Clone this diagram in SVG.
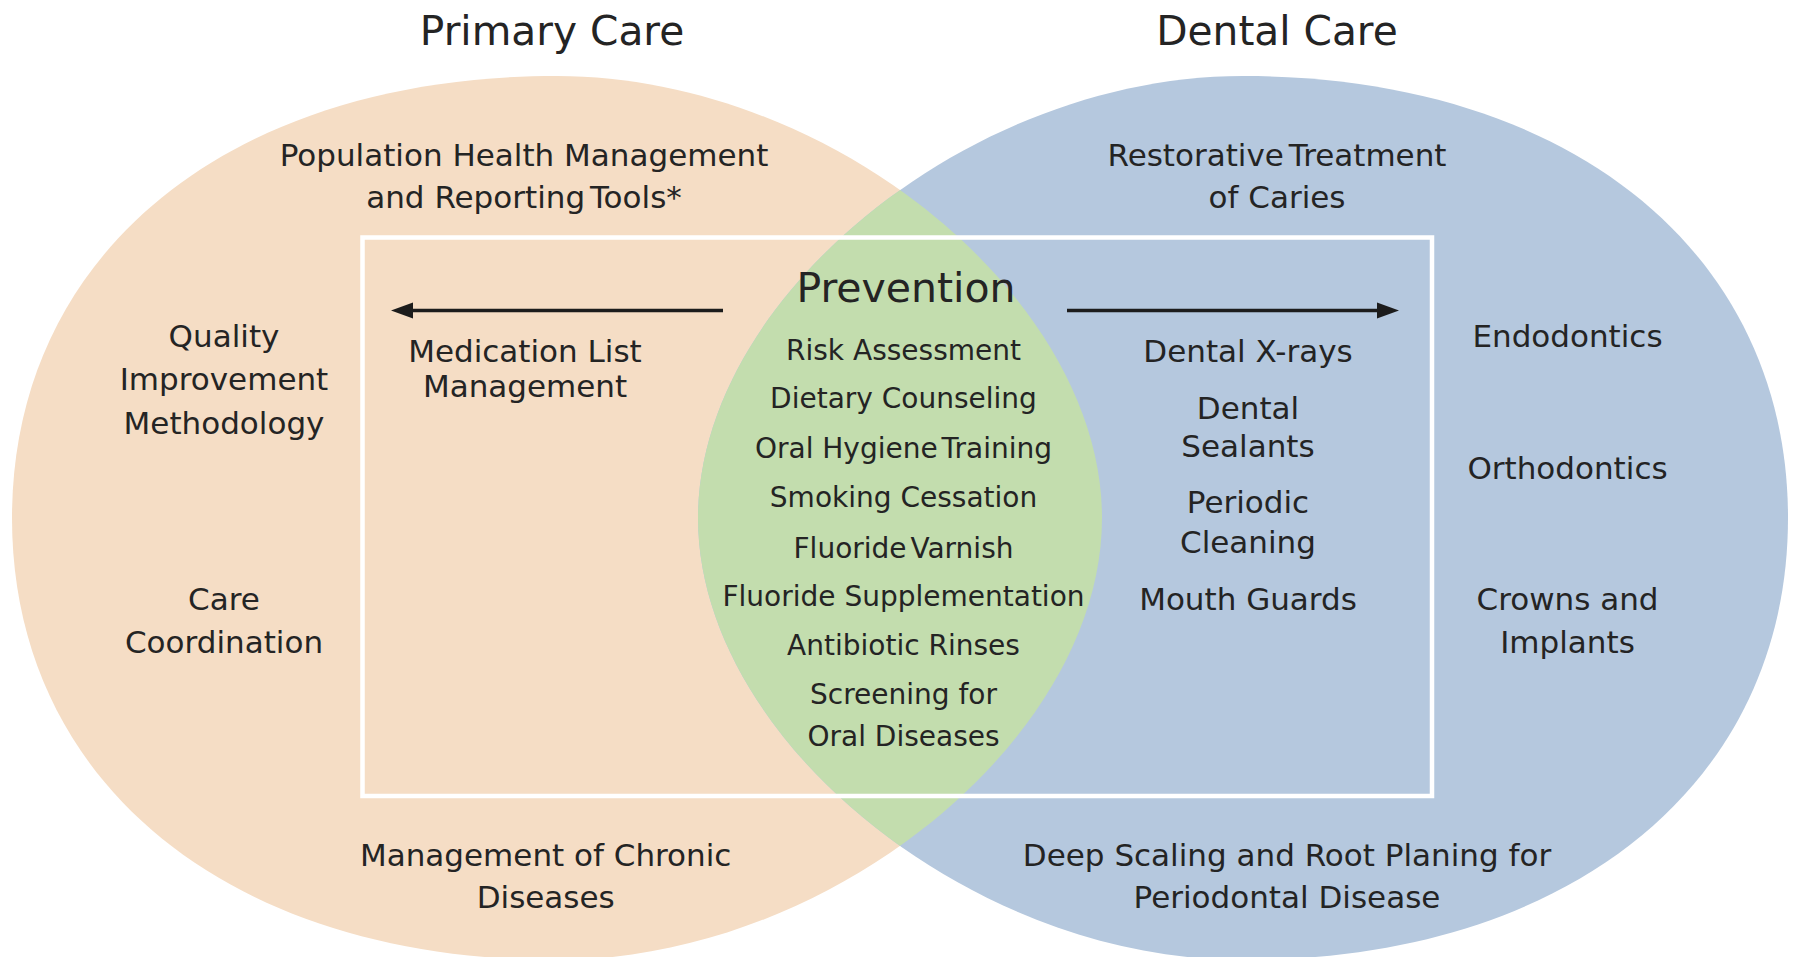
<svg xmlns="http://www.w3.org/2000/svg" xmlns:xlink="http://www.w3.org/1999/xlink" width="1793" height="957" viewBox="0 0 1793 957">
<defs>
<style>
text { font-family: "DejaVu Sans", "Liberation Sans", sans-serif; fill: #242424; text-anchor: middle; }
.title { font-size: 40.7px; }
.lbl { font-size: 31px; }
.prev { font-size: 28px; }
.head { font-size: 41px; }
.tight { word-spacing: -5px; }
.arrow { stroke: #1c1c1c; stroke-width: 3.5; fill: none; marker-end: url(#ah); }
</style>
<marker id="ah" markerUnits="userSpaceOnUse" markerWidth="22" markerHeight="18" viewBox="0 0 22 18" refX="10" refY="9" orient="auto">
<path d="M0,1 L22,9 L0,17 Z" fill="#1c1c1c"/>
</marker>
<path id="lobe" d="M557,76 C230,76 12,252.8 12,518 C12,783.2 230,960 557,960 C829.5,960 1102,739 1102,518 C1102,297 829.5,76 557,76 Z"/>
<clipPath id="clipBlue">
<use xlink:href="#lobe" href="#lobe" transform="translate(1800,0) scale(-1,1)"/>
</clipPath>
</defs>

<g id="circles">
<use id="primary-lobe" xlink:href="#lobe" href="#lobe" fill="#F5DDC5"/>
<use id="dental-lobe" xlink:href="#lobe" href="#lobe" fill="#B5C8DE" transform="translate(1800,0) scale(-1,1)"/>
<use id="overlap" xlink:href="#lobe" href="#lobe" fill="#C3DDAE" clip-path="url(#clipBlue)"/>
</g>

<g id="frame">
<rect x="362.5" y="237.5" width="1069.5" height="558.5" fill="none" stroke="#ffffff" stroke-width="4.5"/>
</g>

<g id="connectors">
<path class="arrow" d="M723,310.5 L403,310.5"/>
<path class="arrow" d="M1067,310.5 L1387,310.5"/>
</g>

<g id="title-primary"><text class="title" x="552" y="45">Primary Care</text></g>
<g id="title-dental"><text class="title" x="1277" y="45">Dental Care</text></g>

<g id="population-health">
<text class="lbl" x="524" y="166">Population Health Management</text>
<text class="lbl" x="524" y="208">and <tspan class="tight">Reporting Tools*</tspan></text>
</g>
<g id="restorative">
<text class="lbl tight" x="1277" y="166">Restorative Treatment</text>
<text class="lbl" x="1277" y="208">of Caries</text>
</g>
<g id="quality">
<text class="lbl" x="224" y="347">Quality</text>
<text class="lbl" x="224" y="390">Improvement</text>
<text class="lbl" x="224" y="434">Methodology</text>
</g>
<g id="care-coordination">
<text class="lbl" x="224" y="609.5">Care</text>
<text class="lbl" x="224" y="653">Coordination</text>
</g>
<g id="medication">
<text class="lbl" x="525" y="362">Medication List</text>
<text class="lbl" x="525" y="397">Management</text>
</g>
<g id="prevention">
<text class="head" x="906" y="302">Prevention</text>
<text class="prev" x="903.5" y="359.5">Risk Assessment</text>
<text class="prev" x="903.5" y="408.3">Dietary Counseling</text>
<text class="prev" x="903.5" y="458.3">Oral <tspan class="tight">Hygiene Training</tspan></text>
<text class="prev" x="903.5" y="507.3">Smoking Cessation</text>
<text class="prev tight" x="903.5" y="558.3">Fluoride Varnish</text>
<text class="prev" x="903.5" y="606">Fluoride Supplementation</text>
<text class="prev" x="903.5" y="655">Antibiotic Rinses</text>
<text class="prev" x="903.5" y="704">Screening for</text>
<text class="prev" x="903.5" y="746">Oral Diseases</text>
</g>
<g id="dental-services">
<text class="lbl" x="1248" y="362">Dental X-rays</text>
<text class="lbl" x="1248" y="419">Dental</text>
<text class="lbl" x="1248" y="457">Sealants</text>
<text class="lbl" x="1248" y="513">Periodic</text>
<text class="lbl" x="1248" y="553">Cleaning</text>
<text class="lbl" x="1248" y="609.5">Mouth Guards</text>
</g>
<g id="endodontics"><text class="lbl" x="1567.5" y="347">Endodontics</text></g>
<g id="orthodontics"><text class="lbl" x="1567.5" y="478.5">Orthodontics</text></g>
<g id="crowns">
<text class="lbl" x="1567.5" y="609.5">Crowns and</text>
<text class="lbl" x="1567.5" y="653">Implants</text>
</g>
<g id="chronic">
<text class="lbl" x="545.7" y="866">Management of Chronic</text>
<text class="lbl" x="545.7" y="908">Diseases</text>
</g>
<g id="deep-scaling">
<text class="lbl" x="1287" y="866">Deep Scaling and Root Planing for</text>
<text class="lbl" x="1287" y="908">Periodontal Disease</text>
</g>
</svg>
